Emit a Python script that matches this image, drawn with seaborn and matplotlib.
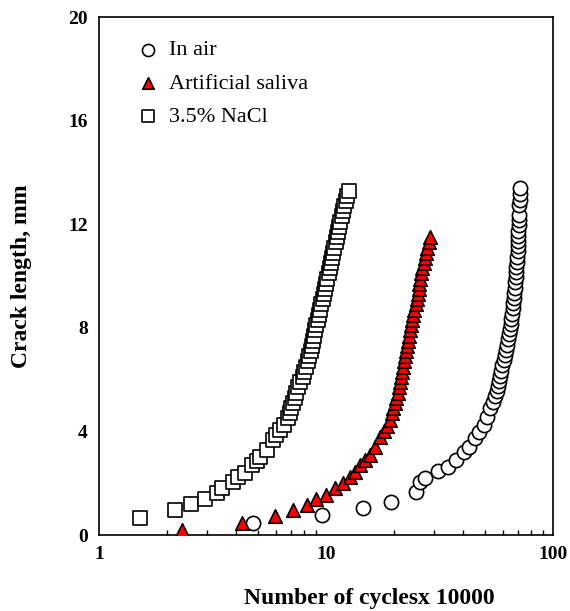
import matplotlib
matplotlib.use("Agg")
import matplotlib.pyplot as plt
import seaborn as sns
import pandas as pd

# ---- data (cycles x 10000, crack length mm) ----
air_x = [4.77, 9.6, 14.6, 19.3, 24.8, 26.0, 27.2, 31.0, 34.3, 37.5, 40.5, 42.5,
         45.5, 47.0, 49.5, 51.0, 53.0, 54.5, 55.8, 56.6, 57.2, 57.8, 58.4, 59.0,
         59.8, 60.6, 61.4, 62.2, 62.9, 63.6, 64.1, 64.6, 65.0, 65.5, 66.0, 66.5,
         66.9, 67.3, 67.6, 67.9, 68.2, 68.5, 68.8, 69.0, 69.3, 69.5, 69.8, 70.0,
         70.1, 70.3, 70.4, 70.5, 70.6, 70.7, 71.0, 71.2, 71.4, 71.6]
air_y = [0.46, 0.77, 1.04, 1.27, 1.66, 2.05, 2.20, 2.47, 2.63, 2.90, 3.20, 3.40,
         3.75, 3.98, 4.25, 4.56, 4.90, 5.14, 5.35, 5.55, 5.75, 5.95, 6.15, 6.35,
         6.55, 6.75, 6.95, 7.15, 7.35, 7.55, 7.75, 7.95, 8.15, 8.35, 8.55, 8.75,
         8.95, 9.15, 9.35, 9.55, 9.75, 9.95, 10.15, 10.35, 10.55, 10.75, 10.95, 11.15,
         11.35, 11.55, 11.75, 11.95, 12.15, 12.35, 12.75, 12.95, 13.15, 13.40]

saliva_x = [2.32, 4.27, 5.96, 7.16, 8.25, 9.03, 10.0, 11.0, 11.9, 12.7, 13.4, 14.1,
            14.9, 15.6, 16.4, 17.3, 18.0, 18.6, 19.1, 19.6, 19.8, 20.1, 20.4, 20.7,
            21.0, 21.2, 21.4, 21.6, 21.8, 22.0, 22.3, 22.5, 22.8, 23.0, 23.3, 23.5,
            23.7, 23.9, 24.1, 24.4, 24.8, 25.1, 25.4, 25.6, 25.8, 26.0, 26.3, 26.6,
            26.9, 27.2, 27.5, 27.9, 28.3, 28.7]
saliva_y = [0.19, 0.46, 0.73, 0.97, 1.16, 1.39, 1.54, 1.81, 2.00, 2.24, 2.43, 2.70,
            2.90, 3.10, 3.40, 3.80, 4.00, 4.20, 4.45, 4.70, 4.90, 5.10, 5.30, 5.50,
            5.70, 5.90, 6.10, 6.30, 6.50, 6.70, 6.90, 7.10, 7.30, 7.50, 7.70, 7.90,
            8.10, 8.30, 8.50, 8.70, 8.90, 9.10, 9.30, 9.50, 9.70, 9.90, 10.10, 10.30,
            10.50, 10.70, 10.90, 11.10, 11.30, 11.50]

nacl_x = [1.52, 2.16, 2.54, 2.93, 3.31, 3.48, 3.89, 4.09, 4.40, 4.72, 4.95, 5.12,
          5.50, 5.84, 6.00, 6.27, 6.50, 6.80, 6.92, 7.04, 7.16, 7.28, 7.40, 7.56,
          7.72, 7.88, 8.04, 8.20, 8.32, 8.44, 8.56, 8.68, 8.80, 8.88, 8.96, 9.06,
          9.18, 9.30, 9.42, 9.54, 9.66, 9.78, 9.90, 10.02, 10.14, 10.26, 10.38, 10.50,
          10.62, 10.74, 10.88, 11.04, 11.20, 11.32, 11.44, 11.58, 11.74, 11.90, 12.06,
          12.22, 12.40, 12.60]
nacl_y = [0.66, 0.97, 1.20, 1.39, 1.62, 1.81, 2.05, 2.24, 2.39, 2.70, 2.85, 3.00,
          3.28, 3.67, 3.85, 4.05, 4.25, 4.50, 4.70, 4.90, 5.10, 5.30, 5.50, 5.70,
          5.90, 6.10, 6.30, 6.50, 6.70, 6.90, 7.10, 7.30, 7.50, 7.70, 7.90, 8.10,
          8.30, 8.50, 8.70, 8.90, 9.10, 9.30, 9.50, 9.70, 9.90, 10.10, 10.30, 10.50,
          10.70, 10.90, 11.10, 11.30, 11.50, 11.70, 11.90, 12.10, 12.30, 12.50, 12.70,
          12.90, 13.10, 13.30]

labels = ["In air", "Artificial saliva", "3.5% NaCl"]
y_ticks = [0, 4, 8, 12, 16, 20]
x_ticks = [1, 10, 100]
x_tick_labels = ["1", "10", "100"]

sns.set_style("white")
plt.rcParams["font.family"] = ["Liberation Serif", "DejaVu Serif"]
plt.rcParams["text.color"] = "black"
plt.rcParams["axes.labelcolor"] = "black"
plt.rcParams["xtick.color"] = "black"
plt.rcParams["ytick.color"] = "black"

fig = plt.figure(figsize=(5.70, 6.11), dpi=100)
ax = fig.add_axes([99 / 570, 1 - 535 / 611, 454 / 570, 518 / 611])

S = 105
LW = 1.2
sns.scatterplot(x=air_x, y=air_y, ax=ax, marker="o", s=S, color="white",
                edgecolor="black", linewidth=LW, label=labels[0], zorder=3)
sns.scatterplot(x=saliva_x, y=saliva_y, ax=ax, marker="^", s=S * 0.9, color="#ff0000",
                edgecolor="black", linewidth=LW, label=labels[1], zorder=3)
sns.scatterplot(x=nacl_x, y=nacl_y, ax=ax, marker="s", s=S * 0.9, color="white",
                edgecolor="black", linewidth=LW, label=labels[2], zorder=3)

ax.set_xscale("log")
ax.set_xlim(1, 100)
ax.set_ylim(0, 20)
ax.set_xticks(x_ticks)
ax.set_xticklabels(x_tick_labels)
ax.set_yticks(y_ticks)
ax.set_yticklabels([str(v) for v in y_ticks])

for sp in ax.spines.values():
    sp.set_visible(True)
    sp.set_color("black")
    sp.set_linewidth(1.2)

ax.tick_params(axis="both", which="major", direction="in", length=5, width=1.1,
               labelsize=14, colors="black", pad=8)
ax.tick_params(axis="x", which="minor", direction="in", length=3.5, width=1.0,
               bottom=True)
ax.tick_params(axis="y", which="minor", left=False)
for lab in ax.get_xticklabels() + ax.get_yticklabels():
    lab.set_fontweight("bold")

ax.set_xlabel("")
ax.set_ylabel("Crack length, mm", fontsize=17, fontweight="bold", color="black")
ax.yaxis.set_label_coords(-0.148, 0.5)
fig.text(369 / 570, 0.003, "Number of cyclesx 10000", ha="center", va="bottom",
         fontsize=17, fontweight="bold", color="black")

leg = ax.legend(loc="upper left", bbox_to_anchor=(0.084, 0.956), frameon=False,
                fontsize=16, borderpad=0, borderaxespad=0, handlelength=1.0,
                handletextpad=0.45, labelspacing=0.58, markerscale=0.85)
for t in leg.get_texts():
    t.set_color("black")

fig.savefig("out.png", dpi=100)
